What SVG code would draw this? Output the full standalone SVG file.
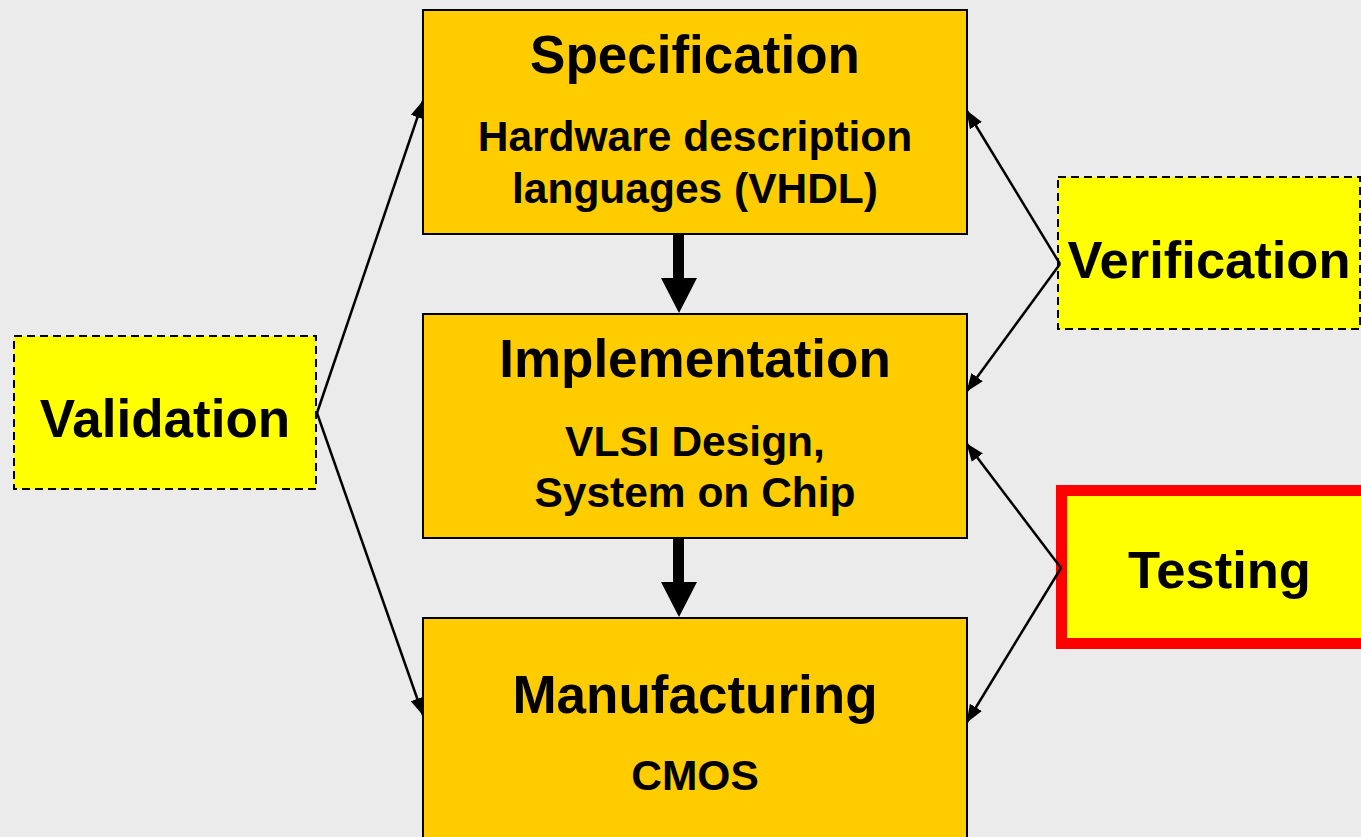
<svg xmlns="http://www.w3.org/2000/svg" width="1361" height="837" viewBox="0 0 1361 837">
  <style>
    .stage { fill: #FFCC00; stroke: #000; stroke-width: 2; }
    .side { fill: #FFFF00; stroke: #000; stroke-width: 2; stroke-dasharray: 8 5; }
    .test { fill: #FFFF00; stroke: #FF0000; stroke-width: 11; }
    .title { font-family: "Liberation Sans", Arial, sans-serif; font-weight: bold; font-size: 53px; text-anchor: middle; fill: #000; }
    .sub { font-family: "Liberation Sans", Arial, sans-serif; font-weight: bold; font-size: 42.5px; text-anchor: middle; fill: #000; }
    .link { fill: none; stroke: #000; stroke-width: 2.5; marker-end: url(#tip); }
    .flow { fill: #000; }
  </style>
  <defs>
    <marker id="tip" viewBox="0 0 10 10" refX="9.5" refY="5" markerUnits="userSpaceOnUse" markerWidth="18" markerHeight="14" orient="auto" preserveAspectRatio="none">
      <path d="M0,0 L10,5 L0,10 Z" fill="#000"/>
    </marker>
  </defs>
  <rect width="1361" height="837" fill="#EBEBEB"/>

  <g id="specification">
    <rect class="stage" x="423" y="10" width="544" height="224"/>
    <text class="title" x="695" y="73">Specification</text>
    <text class="sub" x="695" y="151">Hardware description</text>
    <text class="sub" x="695" y="203">languages (VHDL)</text>
  </g>

  <g id="implementation">
    <rect class="stage" x="423" y="314" width="544" height="224"/>
    <text class="title" x="695" y="377">Implementation</text>
    <text class="sub" x="695" y="456">VLSI Design,</text>
    <text class="sub" x="695" y="507">System on Chip</text>
  </g>

  <g id="manufacturing">
    <rect class="stage" x="423" y="618" width="544" height="240"/>
    <text class="title" x="695" y="713">Manufacturing</text>
    <text class="sub" x="695" y="790">CMOS</text>
  </g>

  <g id="validation">
    <rect class="side" x="14" y="336" width="302" height="153"/>
    <text class="title" x="165" y="437">Validation</text>
  </g>

  <g id="verification">
    <rect class="side" x="1058" y="177" width="302" height="152"/>
    <text class="title" x="1209" y="278" style="font-size:52.5px">Verification</text>
  </g>

  <g id="testing">
    <rect class="test" x="1061.5" y="490.5" width="320" height="153"/>
    <text class="title" x="1219.5" y="588" style="font-size:52.5px">Testing</text>
  </g>

  <!-- relation connectors, drawn over the box edges -->
  <g id="connectors">
    <path class="link" d="M317,413 L423,101"/>
    <path class="link" d="M317,413 L423,715"/>
    <path class="link" d="M1060,264 L967,111"/>
    <path class="link" d="M1060,264 L967,391"/>
    <path class="link" d="M1061,568 L967,444"/>
    <path class="link" d="M1061,568 L967,722"/>
    <path class="flow" d="M673,235 L684,235 L684,278 L697,278 L679,313 L661,278 L673,278 Z"/>
    <path class="flow" d="M673,539 L684,539 L684,582 L697,582 L679,617 L661,582 L673,582 Z"/>
  </g>
</svg>
